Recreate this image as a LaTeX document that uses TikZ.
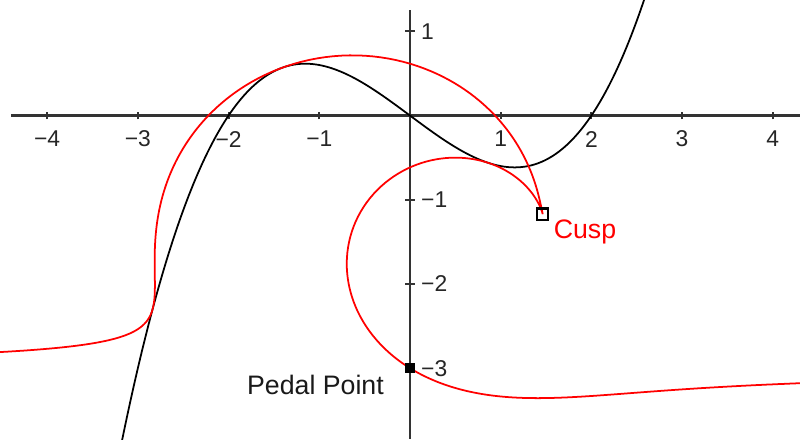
\documentclass[tikz,border=0pt]{standalone}
\usepackage{fontspec}
\setmainfont{Liberation Sans}
\usetikzlibrary{positioning, calc}

\begin{document}
\begin{tikzpicture}[x=0.907cm, y=0.842cm,
  axisline/.style={draw=black!80, line width=0.6pt},
  tickmark/.style={draw=black!80, line width=0.55pt},
  ticklbl/.style={font=\fontsize{6.5}{7}\selectfont, text=black!85, inner sep=0pt},
  curve/.style={line width=0.5pt},
  lbl/.style={font=\fontsize{7.6}{9}\selectfont, inner sep=0pt},
  declare function={f(\t)=0.2*\t*\t*\t-0.8*\t; g(\t)=0.6*\t*\t-0.8;
    s(\t)=(-\t+(-3-f(\t))*g(\t))/(1+g(\t)*g(\t));}]
  \useasboundingbox (-4.52,-3.842) rectangle (4.30,1.372);
  \draw[axisline] (-4.4,0) -- (4.30,0);
  \draw[axisline] (0,1.25) -- (0,-3.842);
  \foreach \i/\lab in {-4/−4,-3/−3,-2/−2,-1/−1,1/1,2/2,3/3,4/4} {
    \draw[tickmark] (\i,0) ++(0,-1.1pt) -- ++(0,2.2pt);
    \node[ticklbl] (x\i) at (\i,-0.279) {\lab};
  }
  \foreach \j/\lab in {1/1,-1/−1,-2/−2,-3/−3} {
    \draw[tickmark] (0,\j) ++(-1.4pt,0) -- ++(2.8pt,0);
    \node[ticklbl, anchor=west] (y\j) at (0.116,\j) {\lab};
  }
  \begin{scope}
    \clip (-4.52,-3.842) rectangle (4.30,1.372);
    \draw[curve] plot[domain=-3.3:2.65, samples=160, smooth] (\x,{f(\x)});
    \draw[curve, red] plot[domain=-7:7, samples=901] ({\x+s(\x)},{f(\x)+s(\x)*g(\x)});
  \end{scope}
  \node[draw=black, fill=black, minimum size=2.4pt, inner sep=0pt] (pp) at (0,-3) {};
  \node[draw=black, line width=0.6pt, minimum size=3.2pt, inner sep=0pt] (cusp) at (1.463,-1.171) {};
  \node[lbl, text=black!90, anchor=base] (pplbl) at (-1.042,-3.308) {Pedal Point};
  \node[lbl, text=red, anchor=base] (cusplbl) at (1.929,-1.455) {Cusp};
\end{tikzpicture}
\end{document}
